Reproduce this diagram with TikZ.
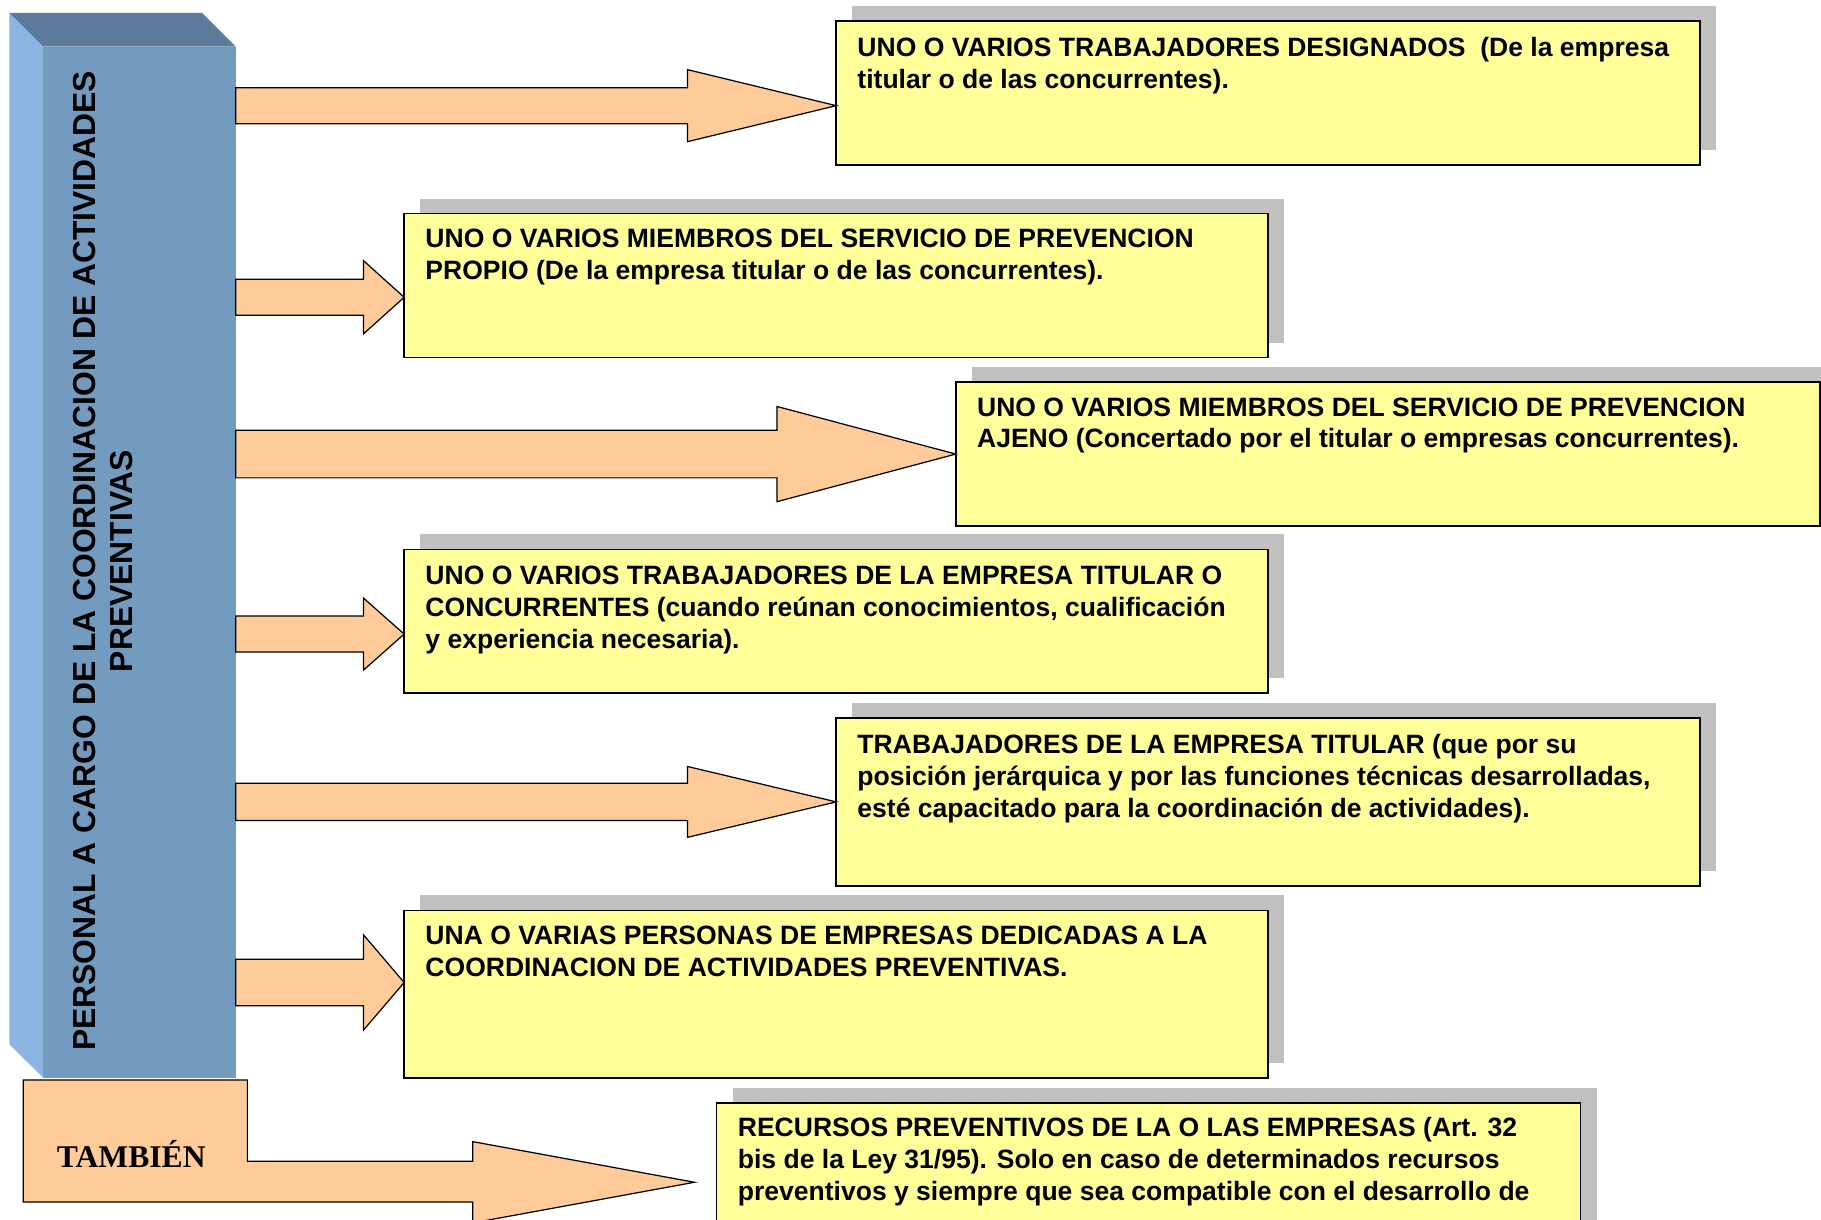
\documentclass[tikz,border=0pt]{standalone}
\usepackage{fontspec}
\setmainfont{Liberation Sans}
\newfontfamily\tambfont{Liberation Serif}
\usetikzlibrary{shadows}

\definecolor{cardyellow}{HTML}{FFFF99}
\definecolor{sombra}{HTML}{C0C0C0}
\definecolor{melocoton}{HTML}{FFCC99}
\definecolor{frente}{HTML}{739BC0}
\definecolor{techo}{HTML}{5B7B9C}
\definecolor{lado}{HTML}{8BB4E1}

\begin{document}
\begin{tikzpicture}[
  x=0.02cm, y=-0.02cm,
  card/.style={rectangle, draw, line width=0.8pt, fill=cardyellow, anchor=north west,
    minimum width=14.88cm, minimum height=2.48cm, inner sep=0pt, outer sep=0pt,
    drop shadow={shadow xshift=0.28cm, shadow yshift=0.26cm, fill=sombra, opacity=1}},
  cardtext/.style={anchor=north west, inner sep=0pt, align=left,
    font=\fontsize{13}{15.6}\selectfont\bfseries},
  flecha/.style={draw, line width=0.6pt, fill=melocoton, line join=miter},
  font=\bfseries
]
\useasboundingbox (0,0) rectangle (1568,1050);

% bloque vertical
\node[rectangle, fill=frente, minimum width=3.32cm, minimum height=17.76cm,
  inner sep=0pt, outer sep=0pt] (pers) at (120,484) {};
\fill[techo] (pers.north west) -- ++(-29,-29) -- ++(166,0) -- (pers.north east) -- cycle;
\fill[lado] (pers.north west) -- ++(-29,-29) -- ++(0,888) -- (pers.south west) -- cycle;
\node[rotate=90, align=center, inner sep=0pt, font=\fontsize{15.6}{18.2}\selectfont\bfseries]
  (perstxt) at (89,483) {PERSONAL A CARGO DE LA COORDINACION DE ACTIVIDADES\\PREVENTIVAS};

% cajas
\node[card] (desig) at (720,18) {};
\node[cardtext] at ([shift={(18,14)}]desig.north west)
  {UNO O VARIOS TRABAJADORES DESIGNADOS\ \ (De la empresa\\titular o de las concurrentes).};
\node[card] (propio) at (348,184) {};
\node[cardtext] at ([shift={(18,13)}]propio.north west)
  {UNO O VARIOS MIEMBROS DEL SERVICIO DE PREVENCION\\PROPIO (De la empresa titular o de las concurrentes).};
\node[card] (ajeno) at (823,329) {};
\node[cardtext] at ([shift={(18,13)}]ajeno.north west)
  {UNO O VARIOS MIEMBROS DEL SERVICIO DE PREVENCION\\AJENO (Concertado por el titular o empresas concurrentes).};
\node[card] (trab) at (348,473) {};
\node[cardtext] at ([shift={(18,14)}]trab.north west)
  {UNO O VARIOS TRABAJADORES DE LA EMPRESA TITULAR O\\CONCURRENTES (cuando reúnan conocimientos, cualificación\\y experiencia necesaria).};
\node[card, minimum height=2.9cm] (titular) at (720,618) {};
\node[cardtext] at ([shift={(18,14)}]titular.north west)
  {TRABAJADORES DE LA EMPRESA TITULAR (que por su\\posición jerárquica y por las funciones técnicas desarrolladas,\\esté capacitado para la coordinación de actividades).};
\node[card, minimum height=2.88cm] (coord) at (348,784) {};
\node[cardtext] at ([shift={(18,13)}]coord.north west)
  {UNA O VARIAS PERSONAS DE EMPRESAS DEDICADAS A LA\\COORDINACION DE ACTIVIDADES PREVENTIVAS.};
\node[card, minimum height=2.9cm] (recursos) at (617,950) {};
\node[cardtext] at ([shift={(18,12)}]recursos.north west)
  {RECURSOS PREVENTIVOS DE LA O LAS EMPRESAS (Art. 32\\bis de la Ley 31/95). Solo en caso de determinados recursos\\preventivos y siempre que sea compatible con el desarrollo de};

% flechas
\draw[flecha] ([yshift=-0.22cm]desig.west) -- ++(-128,-31) -- ++(0,15.5) coordinate (s1)
  -- (pers.east |- s1) -- ++(0,31) coordinate (s2) -- (s1 |- s2) -- ++(0,15.5) -- cycle;
\draw[flecha] ([yshift=-0.2cm]propio.west) -- ++(-35,-31.5) -- ++(0,16) coordinate (s1)
  -- (pers.east |- s1) -- ++(0,31) coordinate (s2) -- (s1 |- s2) -- ++(0,16) -- cycle;
\draw[flecha] (ajeno.west) -- ++(-154,-41) -- ++(0,20.5) coordinate (s1)
  -- (pers.east |- s1) -- ++(0,41) coordinate (s2) -- (s1 |- s2) -- ++(0,20.5) -- cycle;
\draw[flecha] ([yshift=-0.22cm]trab.west) -- ++(-35,-31) -- ++(0,15.5) coordinate (s1)
  -- (pers.east |- s1) -- ++(0,31) coordinate (s2) -- (s1 |- s2) -- ++(0,15.5) -- cycle;
\draw[flecha] (titular.west) -- ++(-128,-30.5) -- ++(0,14.5) coordinate (s1)
  -- (pers.east |- s1) -- ++(0,32) coordinate (s2) -- (s1 |- s2) -- ++(0,14.5) -- cycle;
\draw[flecha] ([yshift=0.2cm]coord.west) -- ++(-35,-41) -- ++(0,21) coordinate (s1)
  -- (pers.east |- s1) -- ++(0,40) coordinate (s2) -- (s1 |- s2) -- ++(0,21) -- cycle;

% también
\draw[flecha] (20,930) -- (213,930) -- (213,1000) -- (407,1000) -- (407,983) -- (598,1018)
  -- (407,1053) -- (407,1035) -- (20,1035) -- cycle;
\node[anchor=base, inner sep=0pt, font=\tambfont\fontsize{15.5}{18}\selectfont\bfseries]
  (tamb) at (113,1005) {TAMBIÉN};
\end{tikzpicture}
\end{document}
